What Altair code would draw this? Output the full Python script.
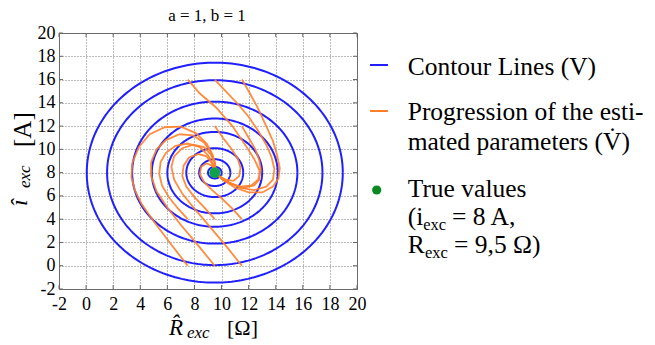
import altair as alt
import numpy as np
import pandas as pd

# ---- true parameter values and contour radii of V ----
R_TRUE = 9.5
I_TRUE = 8.0
contour_radii = [0.5, 1.15, 2.1, 3.5, 4.65, 6.1, 7.95, 9.45]

# ---- tick positions ----
x_ticks = [-2, 0, 2, 4, 6, 8, 10, 12, 14, 16, 18, 20]
y_ticks = [-2, 0, 2, 4, 6, 8, 10, 12, 14, 16, 18, 20]

# ---- estimated-parameter trajectories (R_exc, i_exc) ----
b1_R = [7.5, 6.3, 5.0, 4.1, 3.6, 3.35, 3.4, 3.9, 4.7, 5.8, 7.0, 8.1, 8.9, 9.35, 9.55, 9.55]
b1_I = [0.0, 1.8, 3.8, 5.3, 6.5, 7.6, 8.8, 10.2, 11.3, 11.9, 11.95, 11.4, 10.5, 9.5, 8.6, 8.1]
b2_R = [9.5, 8.3, 7.0, 6.0, 5.2, 4.8, 4.8, 5.2, 5.9, 6.9, 7.9, 8.7, 9.2, 9.5, 9.55]
b2_I = [0.0, 1.7, 3.5, 5.0, 6.4, 7.7, 8.9, 10.0, 10.8, 11.3, 11.2, 10.6, 9.8, 8.9, 8.2]
b3_R = [11.5, 10.4, 9.1, 8.0, 7.1, 6.5, 6.3, 6.5, 7.1, 7.9, 8.7, 9.2, 9.5, 9.55]
b3_I = [0.0, 1.6, 3.4, 4.9, 6.2, 7.4, 8.5, 9.4, 10.1, 10.4, 10.2, 9.6, 8.8, 8.2]
b4_R = [7.5, 6.8, 6.1, 5.6, 5.4, 5.5, 5.9, 6.6, 7.5, 8.4, 9.0, 9.4, 9.5]
b4_I = [4.0, 4.9, 5.9, 6.9, 7.9, 8.9, 9.7, 10.3, 10.5, 10.2, 9.5, 8.7, 8.15]
b5_R = [9.5, 8.8, 8.0, 7.4, 7.1, 7.2, 7.6, 8.3, 8.9, 9.3, 9.5]
b5_I = [4.0, 4.9, 5.9, 6.8, 7.7, 8.6, 9.3, 9.6, 9.4, 8.8, 8.2]
b6_R = [11.5, 10.8, 10.0, 9.3, 8.7, 8.4, 8.5, 8.9, 9.3, 9.5]
b6_I = [4.0, 4.9, 5.8, 6.5, 7.2, 7.9, 8.5, 8.8, 8.6, 8.2]
t1_R = [11.5, 12.1, 12.7, 13.3, 13.8, 14.1, 14.3, 14.2, 13.8, 13.0, 12.0, 11.0, 10.2, 9.7]
t1_I = [16.0, 14.8, 13.5, 12.0, 10.7, 9.5, 8.4, 7.5, 6.8, 6.3, 6.3, 6.7, 7.3, 7.8]
t2_R = [9.5, 10.3, 11.2, 12.0, 12.7, 13.3, 13.7, 13.9, 13.8, 13.3, 12.4, 11.4, 10.5, 9.8]
t2_I = [16.0, 15.0, 13.9, 12.8, 11.6, 10.4, 9.3, 8.3, 7.4, 6.8, 6.5, 6.7, 7.2, 7.7]
t3_R = [7.5, 8.4, 9.6, 10.8, 11.8, 12.4, 12.8, 12.8, 12.4, 11.6, 10.8, 10.1, 9.7]
t3_I = [16.0, 14.8, 13.6, 12.0, 10.3, 9.2, 8.2, 7.4, 6.9, 6.7, 7.0, 7.4, 7.8]
t4_R = [11.5, 12.0, 12.5, 12.8, 12.9, 12.7, 12.2, 11.4, 10.6, 10.0, 9.7]
t4_I = [12.0, 11.0, 10.0, 9.0, 8.2, 7.4, 6.9, 6.8, 7.1, 7.5, 7.85]
t5_R = [9.5, 10.1, 10.7, 11.2, 11.4, 11.3, 10.9, 10.3, 9.8]
t5_I = [12.0, 11.0, 10.1, 9.2, 8.4, 7.7, 7.3, 7.4, 7.7]

trajectories = [
    (b1_R, b1_I), (b2_R, b2_I), (b3_R, b3_I),
    (b4_R, b4_I), (b5_R, b5_I), (b6_R, b6_I),
    (t1_R, t1_I), (t2_R, t2_I), (t3_R, t3_I),
    (t4_R, t4_I), (t5_R, t5_I),
]

# ---- tables ----
rows = []
theta = np.linspace(0, 2 * np.pi, 241)
for n, r in enumerate(contour_radii):
    for k, t in enumerate(theta):
        rows.append({"ring": n, "k": k,
                     "R": R_TRUE + r * np.cos(t), "I": I_TRUE + r * np.sin(t)})
contours = pd.DataFrame(rows)

rows = []
for n, (rs, is_) in enumerate(trajectories):
    for k, (r, i) in enumerate(zip(rs, is_)):
        rows.append({"traj": n, "k": k, "R": r, "I": i})
paths = pd.DataFrame(rows)

truth = pd.DataFrame({"R": [R_TRUE], "I": [I_TRUE]})
xt = pd.DataFrame({"v": x_ticks})
yt = pd.DataFrame({"v": y_ticks})

W, H = 298, 256
SERIF = "Liberation Serif"

xs = alt.Scale(domain=[-2, 20], nice=False, zero=False)
ys = alt.Scale(domain=[-2, 20], nice=False, zero=False)
common_axis = dict(title=None, grid=True, domain=False, ticks=False,
                   labelOverlap=False, labelFlush=False, labelExpr="'' + datum.value")
x_axis = alt.Axis(values=x_ticks, labelPadding=6, **common_axis)
y_axis = alt.Axis(values=y_ticks, labelPadding=4, **common_axis)


def X(field):
    return alt.X(field, scale=xs, axis=x_axis)


def Y(field):
    return alt.Y(field, scale=ys, axis=y_axis)


contour_layer = alt.Chart(contours).mark_line(
    color="#1f1fff", strokeWidth=2, clip=True
).encode(x=X("R:Q"), y=Y("I:Q"), detail="ring:N", order="k:Q")

path_layer = alt.Chart(paths).mark_line(
    color="#ff7f2a", strokeWidth=1.8, opacity=0.9, clip=True
).encode(x=X("R:Q"), y=Y("I:Q"), detail="traj:N", order="k:Q")

truth_layer = alt.Chart(truth).mark_circle(
    color="#12a04a", size=120, opacity=1
).encode(x=X("R:Q"), y=Y("I:Q"))

TICK = "#666666"
tick_bottom = alt.Chart(xt).mark_rule(color=TICK).encode(
    x=X("v:Q"), y=alt.value(H), y2=alt.value(H - 4))
tick_top = alt.Chart(xt).mark_rule(color=TICK).encode(
    x=X("v:Q"), y=alt.value(0), y2=alt.value(4))
tick_left = alt.Chart(yt).mark_rule(color=TICK).encode(
    y=Y("v:Q"), x=alt.value(0), x2=alt.value(4))
tick_right = alt.Chart(yt).mark_rule(color=TICK).encode(
    y=Y("v:Q"), x=alt.value(W), x2=alt.value(W - 4))


def label(txt, x, y, size, style="normal", angle=0, align="left", color="black"):
    return alt.Chart(alt.Data(values=[{}])).mark_text(
        text=txt, font=SERIF, fontSize=size, fontStyle=style, angle=angle,
        align=align, baseline="alphabetic", color=color
    ).encode(x=alt.value(x), y=alt.value(y))


def legend_line(color, y):
    return alt.Chart(alt.Data(values=[{}])).mark_rule(color=color, strokeWidth=2).encode(
        x=alt.value(311), x2=alt.value(329), y=alt.value(y))


texts = [
    label("a = 1, b = 1", W / 2 - 1, -12.5, 17, align="center"),
    # x-axis title
    label("R\u0302", 110, 302, 23, style="italic"),
    label("exc", 128, 305, 17, style="italic"),
    label("[\u03a9]", 168, 302, 22),
    # y-axis title (reads upward)
    label("\u00ee", -32, 173, 24, style="italic", angle=270),
    label("exc", -29, 155, 17, style="italic", angle=270),
    label("[A]", -28, 114, 25, angle=270),
    # legend
    label("Contour Lines (V)", 348.7, 42, 25.5),
    label("Progression of the esti-", 348.7, 87, 25.5),
    label("mated parameters (V\u0307)", 348.7, 117, 25.5),
    label("True values", 348.7, 163.7, 25.5),
    label("(i", 348.7, 192, 25.5),
    label("exc", 364.3, 197, 16.5),
    label("= 8 A,", 393, 192, 25.5),
    label("R", 348.7, 220, 25.5),
    label("exc", 366, 225, 16.5),
    label("= 9,5 \u03a9)", 395, 220, 25.5),
]

legend_dot = alt.Chart(alt.Data(values=[{}])).mark_circle(
    color="#0a8a22", size=85, opacity=1
).encode(x=alt.value(317.7), y=alt.value(157))

chart = alt.layer(
    contour_layer, path_layer, truth_layer,
    tick_bottom, tick_top, tick_left, tick_right,
    legend_line("#1f1fff", 32), legend_line("#ff7f2a", 78), legend_dot,
    *texts,
).properties(
    width=W, height=H,
    autosize=alt.AutoSizeParams(type="none"),
    padding={"left": 59, "top": 33, "right": 298, "bottom": 56},
    background="white",
).configure_view(
    stroke="#666666", strokeWidth=1
).configure_axis(
    labelFont=SERIF, labelFontSize=18, labelColor="black",
    gridColor="#777777", gridDash=[1, 2], gridWidth=1, gridOpacity=1,
)

chart.save("out.html", embed_options={"renderer": "svg", "actions": False})
